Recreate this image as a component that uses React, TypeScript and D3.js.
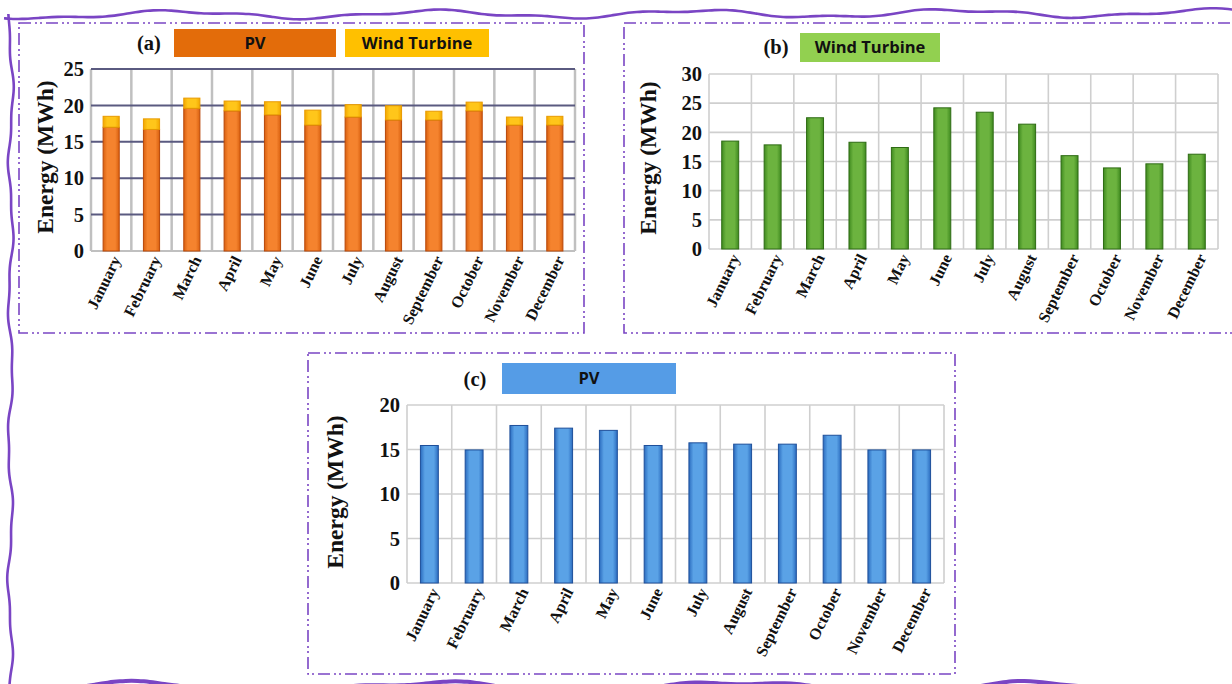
import React from "react";
import * as d3 from "d3";

const months = ["January","February","March","April","May","June","July","August","September","October","November","December"];
const panelA_PV = [17.0, 16.7, 19.6, 19.25, 18.7, 17.3, 18.4, 18.0, 18.0, 19.25, 17.3, 17.3];
const panelA_Wind = [1.5, 1.45, 1.4, 1.35, 1.8, 2.05, 1.7, 1.95, 1.2, 1.2, 1.1, 1.2];
const panelB_Wind = [18.5, 17.85, 22.5, 18.3, 17.4, 24.2, 23.45, 21.4, 16.0, 13.9, 14.6, 16.25];
const panelC_PV = [15.45, 14.95, 17.7, 17.4, 17.15, 15.45, 15.75, 15.6, 15.6, 16.6, 14.95, 14.95];
const ticksA = [0, 5, 10, 15, 20, 25];
const ticksB = [0, 5, 10, 15, 20, 25, 30];
const ticksC = [0, 5, 10, 15, 20];

const SERIF = "'Liberation Serif', 'Times New Roman', serif";
const SANS = "'Open Sans', 'Noto Sans', sans-serif";
const PURPLE = "#7a45c4";

function wavyPath(x0: number, y0: number, x1: number, y1: number, amp: number, period: number, phase: number) {
  const len = Math.hypot(x1 - x0, y1 - y0);
  const n = Math.ceil(len / 6);
  const ux = (x1 - x0) / len, uy = (y1 - y0) / len;
  const nx = -uy, ny = ux;
  const pts: [number, number][] = [];
  for (let i = 0; i <= n; i++) {
    const t = (i / n) * len;
    const w = amp * Math.sin((t / period) * 2 * Math.PI + phase) + amp * 0.4 * Math.sin((t / (period * 0.37)) * 2 * Math.PI + phase * 2);
    pts.push([x0 + ux * t + nx * w, y0 + uy * t + ny * w]);
  }
  return d3.line().curve(d3.curveBasis)(pts) || "";
}

type SeriesDef = { key: string; values: number[]; grad: string; stroke: string };

type PanelProps = {
  id: string;
  box: [number, number, number, number];
  plot: [number, number, number, number];
  yMax: number;
  ticks: number[];
  series: SeriesDef[];
  hGridColor: string;
  hGridW: number;
  vGridColor: string;
  vGridW: number;
  titleX: number;
  titleY: number;
  label: string;
  labelX: number;
  labelY: number;
  legend: { text: string; x: number; y: number; w: number; h: number; fill: string }[];
};

function Panel(p: PanelProps) {
  const [x0, y0, x1, y1] = p.plot;
  const x = d3.scaleBand<string>().domain(months).range([x0, x1]).paddingInner(0).paddingOuter(0);
  const y = d3.scaleLinear().domain([0, p.yMax]).range([y1, y0]);
  const bw = x.bandwidth() * 0.4;
  const rows = months.map((m, i) => {
    const r: any = { month: m };
    p.series.forEach((s) => (r[s.key] = s.values[i]));
    return r;
  });
  const stacked = d3.stack<any>().keys(p.series.map((s) => s.key))(rows);
  const [bx0, by0, bx1, by1] = p.box;
  return (
    <g>
      <rect x={bx0} y={by0} width={bx1 - bx0} height={by1 - by0} fill="none" stroke={PURPLE} strokeWidth={1.6} strokeDasharray="12 4 2 3 2 4" />
      {months.map((m) => (
        <line key={"v" + m} x1={x(m)!} x2={x(m)!} y1={y0} y2={y1} stroke={p.vGridColor} strokeWidth={p.vGridW} />
      ))}
      <line x1={x1} x2={x1} y1={y0} y2={y1} stroke={p.vGridColor} strokeWidth={p.vGridW} />
      {p.ticks.map((t) => (
        <line key={"h" + t} x1={x0} x2={x1} y1={y(t)} y2={y(t)} stroke={t === 0 ? p.vGridColor : p.hGridColor} strokeWidth={p.hGridW} />
      ))}
      {stacked.map((layer, li) => (
        <g key={layer.key}>
          {layer.map((d, i) => (
            <rect
              key={i}
              x={x(months[i])! + (x.bandwidth() - bw) / 2}
              y={y(d[1])}
              width={bw}
              height={y(d[0]) - y(d[1])}
              fill={`url(#${p.series[li].grad})`}
              stroke={p.series[li].stroke}
              strokeWidth={1}
            />
          ))}
        </g>
      ))}
      {p.ticks.map((t) => (
        <text key={"t" + t} x={x0 - 7} y={y(t)} dy="0.35em" textAnchor="end" fontFamily={SERIF} fontWeight="bold" fontSize={20.5} fill="#111">
          {t}
        </text>
      ))}
      {months.map((m) => (
        <text
          key={"x" + m}
          transform={`translate(${x(m)! + x.bandwidth() / 2 + 5},${y1 + 6}) rotate(-64)`}
          dy="0.35em"
          textAnchor="end"
          fontFamily={SERIF}
          fontWeight="bold"
          fontSize={16}
          fill="#111"
        >
          {m}
        </text>
      ))}
      <text transform={`translate(${p.titleX},${p.titleY}) rotate(-90)`} dy="0.35em" textAnchor="middle" fontFamily={SERIF} fontWeight="bold" fontSize={23.5} fill="#111">
        Energy (MWh)
      </text>
      <text x={p.labelX} y={p.labelY} dy="0.35em" textAnchor="middle" fontFamily={SERIF} fontWeight="bold" fontSize={20.5} fill="#111">
        {p.label}
      </text>
      {p.legend.map((l) => (
        <g key={l.text + l.x}>
          <rect x={l.x} y={l.y} width={l.w} height={l.h} fill={l.fill} />
          <text x={l.x + l.w / 2} y={l.y + l.h / 2} dy="0.36em" textAnchor="middle" fontFamily={SANS} fontWeight="bold" fontSize={16.5} fill="#111">
            {l.text}
          </text>
        </g>
      ))}
    </g>
  );
}

function Grad({ id, edge, center }: { id: string; edge: string; center: string }) {
  return (
    <linearGradient id={id} x1="0" x2="1" y1="0" y2="0">
      <stop offset="0" stopColor={edge} />
      <stop offset="0.25" stopColor={center} />
      <stop offset="0.75" stopColor={center} />
      <stop offset="1" stopColor={edge} />
    </linearGradient>
  );
}

export default function App() {
  return (
    <svg width={1232} height={684} style={{ position: "absolute", left: 0, top: 0, background: "#fff" }}>
      <defs>
        <Grad id="gOrange" edge="#d9600f" center="#f5832e" />
        <Grad id="gYellow" edge="#f2a800" center="#ffc61a" />
        <Grad id="gGreen" edge="#3f8a1f" center="#6cb33f" />
        <Grad id="gBlue" edge="#2b6cbf" center="#5aa2e6" />
      </defs>
      <rect x={0} y={0} width={1232} height={684} fill="#fff" />
      <path d={wavyPath(4, 15, 1240, 13, 3.5, 260, 0.6)} fill="none" stroke={PURPLE} strokeWidth={2.6} />
      <path d={wavyPath(11, 14, 10, 690, 2.2, 140, 1.2)} fill="none" stroke={PURPLE} strokeWidth={2.6} />
      <path d={wavyPath(6, 687, 1240, 687, 4.5, 300, 2.0)} fill="none" stroke={PURPLE} strokeWidth={4} />

      <Panel
        id="a"
        box={[19, 23, 584, 333]}
        plot={[91, 69, 575, 251]}
        yMax={25}
        ticks={ticksA}
        series={[
          { key: "pv", values: panelA_PV, grad: "gOrange", stroke: "#b8480a" },
          { key: "wind", values: panelA_Wind, grad: "gYellow", stroke: "#e89a00" },
        ]}
        hGridColor="#5a5a80"
        hGridW={2}
        vGridColor="#c0c0c0"
        vGridW={2.5}
        titleX={45}
        titleY={157}
        label="(a)"
        labelX={149}
        labelY={43}
        legend={[
          { text: "PV", x: 174, y: 29, w: 162, h: 28, fill: "#e36c0a" },
          { text: "Wind Turbine", x: 345, y: 29, w: 144, h: 28, fill: "#ffc000" },
        ]}
      />
      <Panel
        id="b"
        box={[624, 23, 1240, 333]}
        plot={[709, 74, 1218, 249]}
        yMax={30}
        ticks={ticksB}
        series={[{ key: "wind", values: panelB_Wind, grad: "gGreen", stroke: "#2e6b14" }]}
        hGridColor="#cfcfcf"
        hGridW={1.6}
        vGridColor="#cfcfcf"
        vGridW={1.6}
        titleX={648}
        titleY={158}
        label="(b)"
        labelX={776}
        labelY={47}
        legend={[{ text: "Wind Turbine", x: 800, y: 33, w: 140, h: 29, fill: "#92d050" }]}
      />
      <Panel
        id="c"
        box={[308, 353, 955, 674]}
        plot={[407, 405, 944, 583]}
        yMax={20}
        ticks={ticksC}
        series={[{ key: "pv", values: panelC_PV, grad: "gBlue", stroke: "#1e4f9a" }]}
        hGridColor="#cfcfcf"
        hGridW={1.6}
        vGridColor="#cfcfcf"
        vGridW={1.6}
        titleX={335}
        titleY={492}
        label="(c)"
        labelX={475}
        labelY={379}
        legend={[{ text: "PV", x: 502, y: 363, w: 174, h: 31, fill: "#559ce6" }]}
      />
    </svg>
  );
}
